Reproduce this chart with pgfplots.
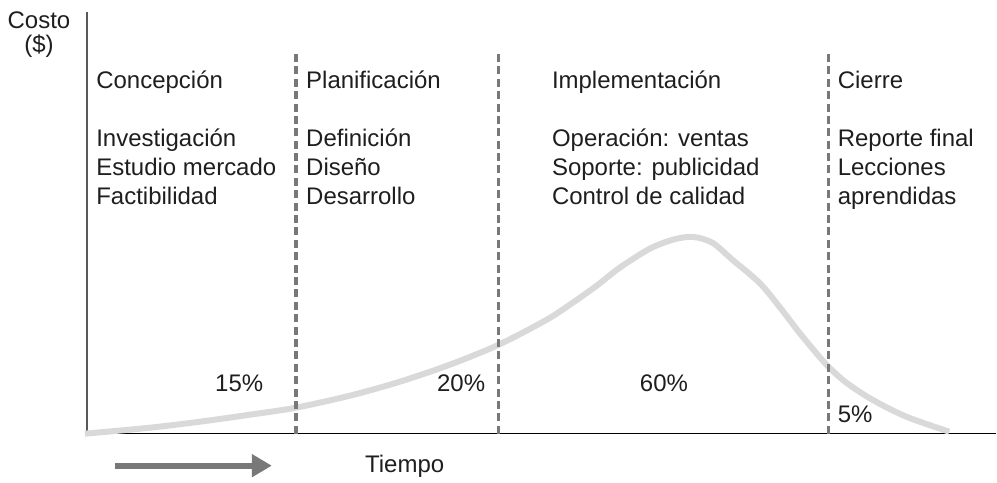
\documentclass[border=0pt]{standalone}
\usepackage{pgfplots}
\pgfplotsset{compat=1.18}
\usepackage{fontspec}
\setmainfont{Liberation Sans}
\usetikzlibrary{arrows.meta}
\definecolor{curvegray}{RGB}{217,217,217}
\definecolor{dashgray}{RGB}{120,120,120}
\definecolor{txt}{RGB}{30,30,30}
\tikzset{lbl/.style={font=\fontsize{12}{14.5}\selectfont, text=txt, inner sep=0pt},
         fase/.style={dashgray, line width=1.8pt, dash pattern=on 4pt off 2.2pt}}
\begin{document}
\begin{tikzpicture}
\begin{axis}[
    scale only axis,
    width=455pt, height=211pt,
    xmin=87, xmax=997, ymin=0, ymax=422,
    axis lines=left,
    axis line style={-},
    x axis line style={black, line width=0.7pt},
    y axis line style={black!65, line width=1pt},
    xtick=\empty, ytick=\empty,
    clip=false,
]
% curva de costo
\addplot[curvegray, line width=3pt, smooth, tension=0.5] coordinates {
(85,0) (150,6) (200,12) (250,19) (296,26) (350,38) (400,52) (450,69) (499,89)
(547,114) (573,131) (597,148) (620,166) (650,185) (673,194)
(693,197) (713,191) (733,174) (760,151) (780,127) (800,101) (820,77) (830,66)
(847,51) (873,34) (907,17) (950,2)};
% fases
\addplot[fase] coordinates {(296,0) (296,382)};
\addplot[fase] coordinates {(499,0) (499,382)};
\addplot[fase] coordinates {(829,0) (829,382)};

\node[lbl, anchor=base] at (axis cs:39,405) {Costo};
\node[lbl, anchor=base] at (axis cs:39,381) {(\$)};

\node[lbl, anchor=base west] at (axis cs:96,345) {Concepción};
\node[lbl, anchor=base west] at (axis cs:96,287) {Investigación};
\node[lbl, anchor=base west] at (axis cs:96,258) {Estudio mercado};
\node[lbl, anchor=base west] at (axis cs:96,229) {Factibilidad};

\node[lbl, anchor=base west] at (axis cs:306,345) {Planificación};
\node[lbl, anchor=base west] at (axis cs:306,287) {Definición};
\node[lbl, anchor=base west] at (axis cs:306,258) {Diseño};
\node[lbl, anchor=base west] at (axis cs:306,229) {Desarrollo};

\node[lbl, anchor=base west] at (axis cs:552,345) {Implementación};
\node[lbl, anchor=base west] at (axis cs:552,287) {Operación: ventas};
\node[lbl, anchor=base west] at (axis cs:552,258) {Soporte: publicidad};
\node[lbl, anchor=base west] at (axis cs:552,229) {Control de calidad};

\node[lbl, anchor=base west] at (axis cs:838,345) {Cierre};
\node[lbl, anchor=base west] at (axis cs:838,287) {Reporte final};
\node[lbl, anchor=base west] at (axis cs:838,258) {Lecciones};
\node[lbl, anchor=base west] at (axis cs:838,229) {aprendidas};

\node[lbl, anchor=base west] at (axis cs:215,42) {15\%};
\node[lbl, anchor=base west] at (axis cs:437,42) {20\%};
\node[lbl, anchor=base west] at (axis cs:640,42) {60\%};
\node[lbl, anchor=base west] at (axis cs:838,11) {5\%};

\draw[dashgray, line width=3pt, -{Triangle[length=10pt, width=11pt]}] (axis cs:115,-32) -- (axis cs:272,-32);
\node[lbl, anchor=base west] at (axis cs:365,-39) {Tiempo};

\path[use as bounding box] (axis cs:0,-49) rectangle (axis cs:997,434);
\end{axis}
\end{tikzpicture}
\end{document}
